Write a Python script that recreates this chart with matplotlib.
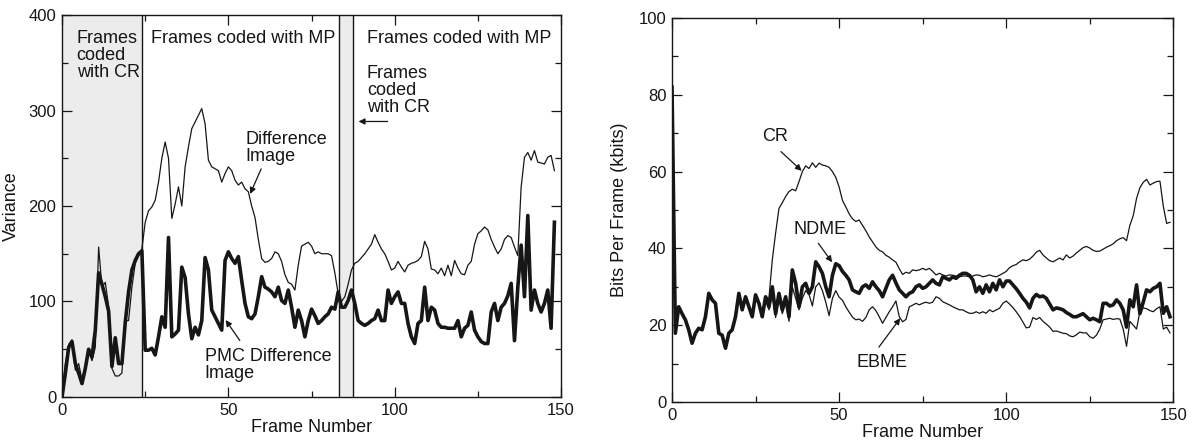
import matplotlib
matplotlib.use("Agg")
import matplotlib.pyplot as plt
from matplotlib.ticker import MultipleLocator

plt.rcParams['font.family'] = ['Liberation Sans', 'DejaVu Sans']

# ---------------- Left panel data ----------------
left_frames = list(range(0, 149))
difference_image = [
    0, 35, 55, 60, 28, 35, 18, 28, 48, 38, 52, 157, 115, 120, 95, 30, 22, 22, 25, 80,
    80, 115, 140, 148, 155, 183, 195, 199, 206, 225, 250, 267, 250, 187, 202, 220, 200, 241, 262, 281,
    288, 295, 302, 286, 248, 241, 239, 237, 225, 234, 241, 237, 227, 222, 225, 218, 215, 200, 188, 165,
    145, 141, 142, 145, 152, 150, 142, 128, 120, 118, 112, 138, 158, 160, 162, 158, 150, 152, 150, 150,
    150, 148, 130, 108, 100, 105, 118, 133, 140, 142, 146, 150, 155, 160, 170, 162, 155, 150, 142, 133,
    135, 142, 136, 131, 138, 140, 141, 143, 147, 163, 155, 134, 133, 129, 135, 127, 138, 127, 143, 135,
    129, 128, 138, 142, 160, 171, 174, 178, 175, 165, 157, 150, 155, 165, 169, 167, 157, 148, 220, 251,
    256, 248, 258, 246, 245, 244, 251, 253, 237,
]
pmc_difference_image = [
    0, 25, 52, 58, 35, 25, 14, 30, 50, 42, 70, 130, 118, 105, 90, 32, 62, 35, 35, 78,
    110, 133, 143, 150, 153, 49, 49, 51, 44, 63, 84, 73, 167, 63, 66, 70, 136, 125, 87, 61,
    73, 65, 80, 146, 133, 91, 84, 77, 70, 143, 152, 145, 140, 147, 122, 98, 84, 82, 87, 105,
    126, 115, 113, 110, 105, 115, 101, 98, 112, 94, 73, 91, 80, 63, 80, 92, 85, 77, 80, 84,
    87, 94, 92, 110, 94, 94, 101, 112, 98, 80, 77, 75, 77, 80, 82, 91, 80, 80, 112, 98,
    105, 110, 98, 98, 77, 63, 56, 77, 80, 115, 80, 94, 91, 77, 73, 73, 72, 72, 72, 80,
    63, 72, 75, 89, 70, 63, 58, 56, 56, 89, 98, 80, 94, 98, 106, 119, 59, 115, 159, 105,
    190, 91, 112, 98, 89, 98, 112, 72, 183,
]
cr_frames_regions = [(0, 24), (83.3, 87.5)]
mp_boundaries = [24, 83.3, 87.5]

# ---------------- Right panel data ----------------
right_frames = list(range(0, 150))
ndme = [
    82, 17.9, 24.8, 23, 21.4, 18.8, 15.3, 17.9, 19.2, 18.8, 22.2, 28.3, 26.6, 25.7, 17.9, 17.4, 14, 17.9, 18.8, 22.2,
    28.3, 24, 27.4, 24.8, 22.2, 27.9, 25.7, 22.2, 27.4, 24.8, 30, 23, 28.3, 24, 27.4, 22.2, 34.4, 30.9, 24.8, 30,
    30.9, 28.3, 30, 36.5, 35.2, 33.5, 30, 27.4, 33, 36, 35.5, 34, 33, 31.8, 29.2, 28.7, 28.3, 30, 30.5, 29.6,
    31.3, 30, 29, 27.4, 29.6, 31.8, 33, 31, 29.2, 28.3, 27.4, 28.3, 28.7, 30, 30.5, 29.6, 30, 30.9, 31.8, 30.9,
    30.5, 32.6, 32.2, 31.8, 32.6, 32.2, 33, 33.5, 33.5, 33, 31.8, 28.7, 30, 28.3, 30.5, 28.7, 30.9, 29.2, 31.8, 30,
    31.5, 31.5, 30.5, 29.5, 28.3, 27, 26, 24.5, 27, 28, 27.4, 27.6, 27, 25.5, 24, 24.5, 24.3, 24, 23.3, 22.8,
    22.2, 22.2, 22.6, 23, 22.2, 21.4, 21.8, 21.4, 20.9, 25.7, 25.7, 25, 25.3, 26.6, 25.7, 24, 19.5, 26.6, 24.8, 30.5,
    23, 26, 29.2, 28.7, 29.6, 30, 30.9, 23.1, 24.8, 22.2,
]
cr = [
    82, 17.9, 24.8, 23, 21.4, 18.8, 15.3, 17.9, 19.2, 18.8, 22.2, 28.3, 26.6, 25.7, 17.9, 17.4, 14, 17.9, 18.8, 22.2,
    28.3, 24, 27.4, 24.8, 22.2, 27.9, 25.7, 22.2, 27.4, 27, 37, 44, 50.4, 51.9, 53.5, 54.8, 55.4, 55, 57.4, 60,
    61.5, 60.8, 62.3, 61.1, 62.2, 61.7, 61.5, 61.1, 60, 58.5, 56, 52.5, 50.8, 49, 47.7, 47, 47.4, 46, 44.6, 43,
    41.7, 40.4, 39.5, 39.1, 38.2, 37.7, 37, 36.4, 34.7, 33.2, 33.8, 33.5, 34.4, 34.2, 34.4, 34.8, 34.4, 34.8, 34, 33.1,
    33.5, 33.1, 32.8, 33.1, 33, 32.8, 32.6, 32.8, 32.8, 32.6, 32.8, 33.1, 33, 32.6, 32.8, 33.1, 32.8, 32.6, 33, 33.5,
    34, 35, 35.5, 35.8, 36.5, 37, 36.8, 37.2, 38, 39, 39.5, 38.3, 37.5, 36.8, 36.5, 37, 37.5, 37, 38.3, 37.5,
    38, 38.8, 39.5, 40.2, 40.5, 40.1, 39.5, 39.2, 39.3, 39.8, 40.3, 40.7, 41.2, 42, 42.5, 42.8, 42, 46, 48.5, 53,
    55.8, 57.2, 58, 56.5, 57, 57.4, 57.5, 51, 46.5, 46.8,
]
ebme = [
    82, 17.9, 24.8, 23, 21.4, 18.8, 15.3, 17.9, 19.2, 18.8, 22.2, 28.3, 26.6, 25.7, 17.9, 17.4, 14, 17.9, 18.8, 22.2,
    28.3, 24, 27.4, 24.8, 22.2, 27.9, 25.7, 22.2, 27.4, 24, 28, 22, 27, 23, 26, 21, 30, 27, 24, 27,
    29, 28, 25, 30, 31, 29, 26, 22.5, 27, 29, 27.3, 26.5, 24.8, 23.4, 22.1, 21.4, 21.6, 21, 22, 24,
    24.8, 23.8, 22.2, 20.5, 22, 23.5, 24.8, 26.3, 22.2, 20.9, 21.5, 24.8, 25.2, 25.7, 25.3, 25.7, 26, 25.7, 26, 27.4,
    27, 26.1, 25.7, 25.3, 24.8, 24.4, 24, 24, 23.5, 23.1, 23.1, 23.5, 23.1, 23.5, 23.1, 24, 23.5, 24, 24.4, 25.7,
    26.3, 25.5, 24.6, 23.5, 22.3, 20.8, 19.3, 19.5, 22, 21.5, 22, 21, 20.3, 19.5, 18.4, 18.5, 18.2, 17.9, 17.8, 17.2,
    17, 17.5, 18.2, 18, 18, 17, 16.6, 17.4, 19, 21.4, 21.6, 21.8, 21.5, 21.7, 21.6, 19, 14.5, 21, 20, 19,
    23.5, 24.5, 24.3, 23.8, 23.5, 24.3, 24.8, 19, 19.5, 18,
]

INK = '#161616'
FS = 12
AFS = 13

fig = plt.figure(figsize=(11.93, 4.44), dpi=100)
axL = fig.add_axes([0.0520, 0.1059, 0.4183, 0.8603])
axR = fig.add_axes([0.5633, 0.0946, 0.4202, 0.8649])

def style(ax, xmaj, xmin, ymaj, ymin):
    ax.xaxis.set_major_locator(MultipleLocator(xmaj))
    ax.xaxis.set_minor_locator(MultipleLocator(xmin))
    ax.yaxis.set_major_locator(MultipleLocator(ymaj))
    ax.yaxis.set_minor_locator(MultipleLocator(ymin))
    ax.tick_params(which='both', direction='in', top=True, right=True,
                   colors=INK, labelsize=FS, width=0.9)
    ax.tick_params(which='major', length=7, pad=4)
    ax.tick_params(which='minor', length=4)
    for s in ax.spines.values():
        s.set_color(INK)
        s.set_linewidth(1.0)

arrow = dict(arrowstyle='-|>', color=INK, lw=0.9, mutation_scale=9)

# ---------- Left panel ----------
for (a, b) in cr_frames_regions:
    axL.axvspan(a, b, facecolor='#ececec', edgecolor='none', zorder=0)
for xb in mp_boundaries:
    axL.axvline(xb, color=INK, lw=1.0, zorder=1)
axL.plot(left_frames, difference_image, color=INK, lw=0.9, zorder=3)
axL.plot(left_frames, pmc_difference_image, color=INK, lw=2.6, zorder=2)
axL.set_xlim(0, 150)
axL.set_ylim(0, 400)
style(axL, 50, 25, 100, 50)
axL.set_xlabel('Frame Number', fontsize=AFS, color=INK, labelpad=1)
axL.set_ylabel('Variance', fontsize=AFS, color=INK, labelpad=6)

tkw = dict(fontsize=AFS, color=INK, linespacing=1.0, va='center', ha='left')
axL.text(4.4, 358, 'Frames\ncoded\nwith CR', **tkw)
axL.text(26.8, 375.6, 'Frames coded with MP', **tkw)
axL.text(91.6, 375.6, 'Frames coded with MP', **tkw)
axL.text(91.6, 321, 'Frames\ncoded\nwith CR', **tkw)
axL.annotate('', xy=(88.3, 288.5), xytext=(98.7, 288.5), arrowprops=arrow)
axL.text(55.0, 261, 'Difference\nImage', **tkw)
axL.annotate('', xy=(56.2, 210), xytext=(60.2, 241.5), arrowprops=arrow)
axL.text(42.9, 33.5, 'PMC Difference\nImage', **tkw)
axL.annotate('', xy=(48.7, 83), xytext=(53.9, 56.8), arrowprops=arrow)

# ---------- Right panel ----------
axR.plot(right_frames, cr, color=INK, lw=0.9, zorder=3)
axR.plot(right_frames, ebme, color=INK, lw=0.9, zorder=3)
axR.plot(right_frames, ndme, color=INK, lw=2.6, zorder=2)
axR.set_xlim(0, 150)
axR.set_ylim(0, 100)
style(axR, 50, 25, 20, 10)
axR.set_xlabel('Frame Number', fontsize=AFS, color=INK, labelpad=1)
axR.set_ylabel('Bits Per Frame (kbits)', fontsize=AFS, color=INK, labelpad=8)

axR.text(27.1, 69.2, 'CR', **tkw)
axR.annotate('', xy=(39.4, 59.7), xytext=(32.0, 65.7), arrowprops=arrow)
axR.text(36.5, 44.9, 'NDME', **tkw)
axR.annotate('', xy=(48.4, 35.8), xytext=(43.3, 41.9), arrowprops=arrow)
axR.text(55.2, 10.2, 'EBME', **tkw)
axR.annotate('', xy=(68.8, 22.4), xytext=(61.4, 13.7), arrowprops=arrow)

fig.savefig('out.png', dpi=100)
